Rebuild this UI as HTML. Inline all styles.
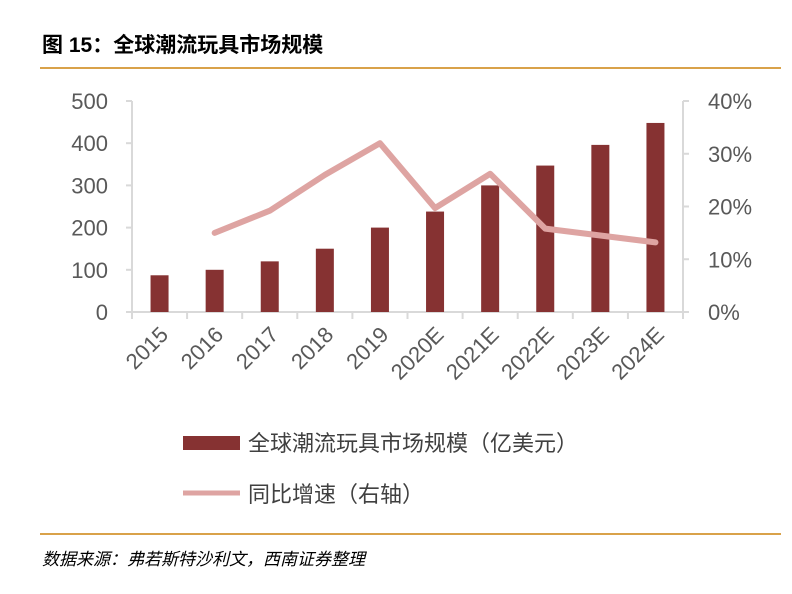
<!DOCTYPE html>
<html><head><meta charset="utf-8"><style>
body{margin:0;width:792px;height:589px;background:#fff;overflow:hidden;font-family:"Liberation Sans","Noto Sans CJK SC",sans-serif}
</style></head><body>
<svg width="792" height="589" id="c">
<text x="42" y="52" font-size="21" font-weight="bold" fill="#000">图 15：全球潮流玩具市场规模</text>
<line x1="40" y1="68" x2="781" y2="68" stroke="#d9a24a" stroke-width="2"/>
<line x1="40" y1="534" x2="781" y2="534" stroke="#d9a24a" stroke-width="2"/>
<text x="42" y="565" font-size="17" font-style="italic" fill="#000">数据来源：弗若斯特沙利文，西南证券整理</text>
<g id="plot"></g>
<rect x="183" y="436" width="57" height="14" fill="#863232"/>
<text x="248" y="451" font-size="22" fill="#404040">全球潮流玩具市场规模（亿美元）</text>
<line x1="183" y1="493" x2="240" y2="493" stroke="#dea4a2" stroke-width="5"/>
<text x="248" y="502" font-size="22" fill="#404040">同比增速（右轴）</text>
</svg>
<script>
const categories=["2015","2016","2017","2018","2019","2020E","2021E","2022E","2023E","2024E"];
const marketSize=[87,100,120,150,200,238,300,347,396,448];
const growth=[null,15,19.2,26,32,19.7,26.2,15.8,14.5,13.2];
const leftTicks=[0,100,200,300,400,500];
const rightTicks=[0,10,20,30,40];
const NS="http://www.w3.org/2000/svg";
const g=document.getElementById("plot");
const X0=132,X1=683,Y0=312,Y1=101;
const bw=(X1-X0)/categories.length;
const yL=v=>Y0-(v/500)*(Y0-Y1);
const yR=v=>Y0-(v/40)*(Y0-Y1);
const xC=i=>X0+bw*(i+0.5);
function mk(t,a){const e=document.createElementNS(NS,t);for(const k in a)e.setAttribute(k,a[k]);g.appendChild(e);return e;}
let e;
e=mk("line",{x1:X0,y1:Y0,x2:X1,y2:Y0,stroke:"#d9d9d9","stroke-width":2});


e=mk("line",{x1:X0,y1:Y1,x2:X0,y2:Y0,stroke:"#d9d9d9","stroke-width":2});


e=mk("line",{x1:X1,y1:Y1,x2:X1,y2:Y0,stroke:"#d9d9d9","stroke-width":2});


leftTicks.forEach(v=>{
 e=mk("line",{x1:X0-6,y1:yL(v),x2:X0,y2:yL(v),stroke:"#d9d9d9","stroke-width":2});
 
 
 e=mk("text",{x:108,y:yL(v)+8,"font-size":22,fill:"#595959","text-anchor":"end"});e.textContent=v;
 
 
});
rightTicks.forEach(v=>{
 e=mk("line",{x1:X1,y1:yR(v),x2:X1+6,y2:yR(v),stroke:"#d9d9d9","stroke-width":2});
 
 
 e=mk("text",{x:X1+25,y:yR(v)+8,"font-size":22,fill:"#595959"});e.textContent=v+"%";
 
 
});
for(let i=0;i<=categories.length;i++){
 e=mk("line",{x1:X0+bw*i,y1:Y0,x2:X0+bw*i,y2:Y0+7,stroke:"#d9d9d9","stroke-width":2});
 
 
}
categories.forEach((c,i)=>{
 const x=xC(i)+10,y=Y0+24;
 e=mk("text",{x:x,y:y,"font-size":22,fill:"#595959","text-anchor":"end",transform:`rotate(-45 ${x} ${y})`});e.textContent=c;
 
 
});
marketSize.forEach((v,i)=>{
 e=mk("rect",{x:xC(i)-9,y:yL(v),width:18,height:Y0-yL(v),fill:"#863232"});
 
 
});
const pts=growth.map((v,i)=>v==null?null:`${xC(i)},${yR(v)}`).filter(p=>p).join(" ");
e=mk("polyline",{points:pts,fill:"none",stroke:"#dea4a2","stroke-width":6,"stroke-linejoin":"round","stroke-linecap":"round"});


</script>
</body></html>
